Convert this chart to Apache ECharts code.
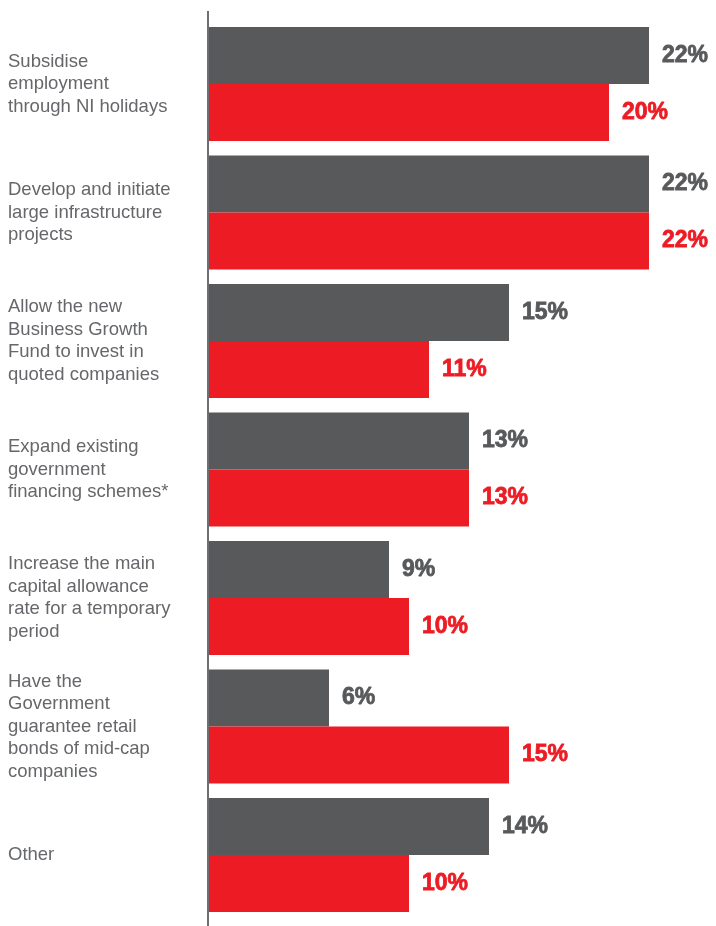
<!DOCTYPE html>
<html>
<head>
<meta charset="utf-8">
<style>
  html, body { margin: 0; padding: 0; background: #ffffff; }
  #chart { width: 716px; height: 926px; }
</style>
<script src="https://cdn.jsdelivr.net/npm/echarts@6/dist/echarts.min.js"></script>
</head>
<body>
<div id="chart"></div>
<script>
// Policy options, top to bottom
const categories = [
  'Subsidise\nemployment\nthrough NI holidays',
  'Develop and initiate\nlarge infrastructure\nprojects',
  'Allow the new\nBusiness Growth\nFund to invest in\nquoted companies',
  'Expand existing\ngovernment\nfinancing schemes*',
  'Increase the main\ncapital allowance\nrate for a temporary\nperiod',
  'Have the\nGovernment\nguarantee retail\nbonds of mid-cap\ncompanies',
  'Other'
];

// Share of respondents (%) for each of the two groups
const greyValues = [22, 22, 15, 13, 9, 6, 14];
const redValues  = [20, 22, 11, 13, 10, 15, 10];

const GREY = '#58595b';
const RED = '#ed1c24';

const chart = echarts.init(document.getElementById('chart'), null, { renderer: 'canvas' });

function barSeries(name, data, color) {
  return {
    name: name,
    type: 'bar',
    data: data,
    barWidth: 57,
    barGap: '0%',
    itemStyle: { color: color },
    label: {
      show: true,
      position: 'right',
      distance: 13,
      formatter: '{c}%',
      color: color,
      fontFamily: 'Liberation Sans',
      fontWeight: 'bold',
      fontSize: 23,
      textBorderColor: color,
      textBorderWidth: 0.8
    },
    silent: true
  };
}

chart.setOption({
  animation: false,
  grid: { left: 209, top: 19.75, width: 500, height: 899.5, containLabel: false },
  xAxis: {
    type: 'value',
    min: 0,
    max: 25,
    show: false
  },
  yAxis: {
    type: 'category',
    data: categories,
    inverse: true,
    axisLine: { show: false },
    axisTick: { show: false },
    splitLine: { show: false },
    axisLabel: {
      align: 'left',
      margin: 201,
      color: '#66676a',
      fontFamily: 'Liberation Sans',
      fontSize: 18.5,
      lineHeight: 22.5
    }
  },
  graphic: [{
    type: 'rect',
    shape: { x: 207, y: 11, width: 2, height: 915 },
    style: { fill: '#6d6e71' },
    silent: true
  }],
  series: [
    barSeries('Grey', greyValues, GREY),
    barSeries('Red', redValues, RED)
  ]
});
</script>
</body>
</html>
